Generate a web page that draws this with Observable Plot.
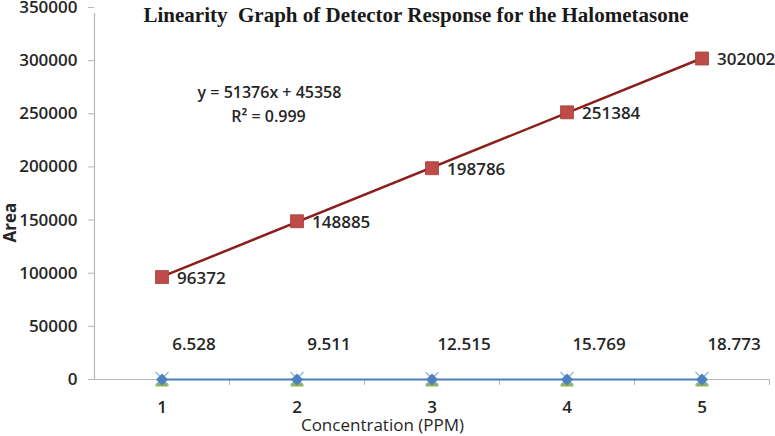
<!DOCTYPE html>
<html>
<head>
<meta charset="utf-8">
<script src="https://cdn.jsdelivr.net/npm/d3@7"></script>
<script src="https://cdn.jsdelivr.net/npm/@observablehq/plot@0.6"></script>
<style>
  html, body { margin: 0; padding: 0; background: #fff; }
  #chart { width: 775px; height: 436px; }
</style>
</head>
<body>
<div id="chart"></div>
<script>
const concentration = [1, 2, 3, 4, 5];
const areaHalometasone = [96372, 148885, 198786, 251384, 302002];
const retentionValues = [6.528, 9.511, 12.515, 15.769, 18.773];
const seriesTriangle = [0, 0, 0, 0, 0];
const seriesCross = [0, 0, 0, 0, 0];
const yTicks = [0, 50000, 100000, 150000, 200000, 250000, 300000, 350000];
const xTicks = [1, 2, 3, 4, 5];
const categoryBounds = [1.5, 2.5, 3.5, 4.5, 5.5];
const titleText = "Linearity  Graph of Detector Response for the Halometasone";
const equationText = "y = 51376x + 45358";
const r2Text = "R\u00B2 = 0.999";
const xLabel = "Concentration (PPM)";
const yLabel = "Area";

const red = concentration.map((c, i) => ({x: c, y: areaHalometasone[i]}));
const blue = concentration.map((c, i) => ({x: c, y: retentionValues[i], label: String(retentionValues[i])}));
const tri = concentration.map((c, i) => ({x: c, y: seriesTriangle[i]}));
const crs = concentration.map((c, i) => ({x: c, y: seriesCross[i]}));

const font = "'Open Sans', sans-serif";
const axisColor = "#b8b8b8";
const textColor = "#262626";

const chart = Plot.plot({
  width: 775,
  height: 436,
  marginLeft: 94,
  marginRight: 6,
  marginTop: 7,
  marginBottom: 57,
  style: {fontFamily: font, background: "#fff", overflow: "visible"},
  x: {domain: [0.5, 5.5], axis: null},
  y: {domain: [0, 350000], axis: null},
  marks: [
    Plot.ruleX([0.5], {stroke: axisColor, strokeWidth: 1.2, y1: 0, y2: 350000, insetBottom: -6}),
    Plot.axisY(yTicks, {tickSize: 6, tickPadding: 11, stroke: axisColor, fill: textColor, fontSize: 17, fontWeight: 600, tickFormat: d => String(d), label: null}),
    Plot.axisX(categoryBounds, {tickSize: 6, stroke: axisColor, tickFormat: () => "", label: null}),
    Plot.axisX(xTicks, {tickSize: 0, tickPadding: 21, fill: textColor, fontSize: 17, fontWeight: 600, tickFormat: d => String(d), label: null}),
    Plot.ruleY([0], {stroke: axisColor, strokeWidth: 1.2}),
    // near-zero series
    Plot.line(blue, {x: "x", y: "y", stroke: "#4a7ebb", strokeWidth: 2}),
    Plot.dot(tri, {x: "x", y: "y", symbol: "triangle", r: 5, fill: "#8fb34f", dy: 3}),
    Plot.dot(crs, {x: "x", y: "y", symbol: "times", r: 6, stroke: "#8dbbe0", strokeWidth: 1.3, dy: -1}),
    Plot.dot(blue, {x: "x", y: "y", symbol: "diamond2", r: 4.5, fill: "#4f81bd", stroke: "#4f81bd", strokeWidth: 1.5, strokeLinejoin: "round"}),
    Plot.text(blue, {x: "x", y: "y", text: "label", dx: 32, dy: -35, fill: textColor, fontSize: 17, fontWeight: 600}),
    // main series
    Plot.linearRegressionY(red, {x: "x", y: "y", stroke: "#8b1f1c", strokeWidth: 2.5, ci: 0}),
    Plot.dot(red, {x: "x", y: "y", symbol: "square", r: 7.3, fill: "#be4b48", stroke: "#a33c39", strokeWidth: 0.8}),
    Plot.text(red, {x: "x", y: "y", text: d => String(d.y), textAnchor: "start", dx: 15, dy: 1, fill: textColor, fontSize: 17, fontWeight: 600}),
    // annotations
    Plot.text([titleText], {frameAnchor: "top-left", textAnchor: "start", lineAnchor: "middle", dx: 49, dy: 8, fontFamily: "'Liberation Serif', 'Times New Roman', serif", fontWeight: "bold", fontSize: 21, fill: "#1a1a1a"}),
    Plot.text([equationText], {frameAnchor: "top-left", textAnchor: "middle", lineAnchor: "middle", dx: 175, dy: 85, fontSize: 16, fontWeight: 600, fill: textColor}),
    Plot.text([r2Text], {frameAnchor: "top-left", textAnchor: "middle", lineAnchor: "middle", dx: 174, dy: 109, fontSize: 16, fontWeight: 600, fill: textColor}),
    Plot.text([xLabel], {frameAnchor: "bottom-left", textAnchor: "middle", lineAnchor: "middle", dx: 288, dy: 46, fontSize: 17, fontWeight: 500, fill: textColor}),
    Plot.text([yLabel], {frameAnchor: "left", textAnchor: "middle", lineAnchor: "middle", rotate: -90, dx: -84, dy: 29, fontSize: 17, fontWeight: 700, fill: textColor})
  ]
});
document.getElementById("chart").appendChild(chart);
</script>
</body>
</html>
